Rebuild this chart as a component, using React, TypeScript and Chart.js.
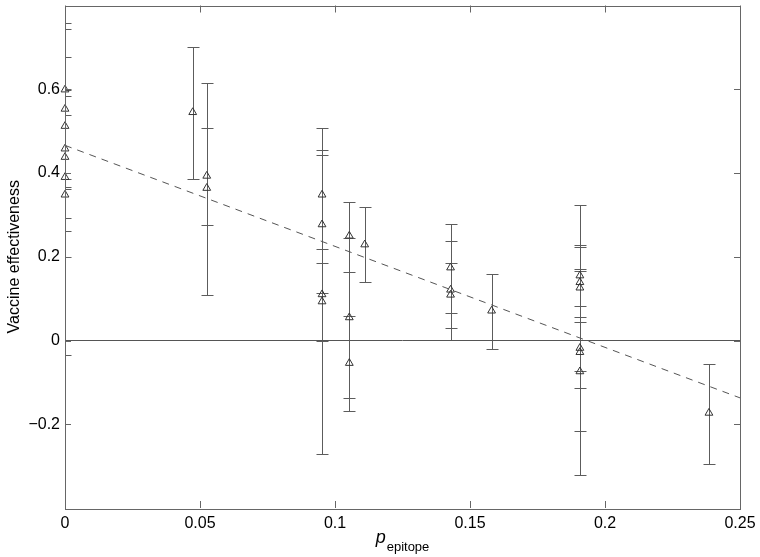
import React, { useEffect, useRef } from "react";
import { Chart, registerables } from "chart.js";

Chart.register(...registerables);

// p_epitope of each observation
const pEpitope = [
  0, 0, 0, 0, 0, 0, 0,
  0.0473,
  0.0525, 0.0525,
  0.0952, 0.0952, 0.0952, 0.0952,
  0.1053, 0.1053, 0.1053,
  0.111,
  0.1428, 0.1428, 0.1428,
  0.158,
  0.1907, 0.1907, 0.1907, 0.1907, 0.1907, 0.1907,
  0.2385,
];
// vaccine effectiveness point estimates
const effectiveness = [
  0.599, 0.553, 0.512, 0.458, 0.438, 0.39, 0.348,
  0.545,
  0.393, 0.364,
  0.348, 0.277, 0.11, 0.093,
  0.25, 0.055, -0.054,
  0.229,
  0.174, 0.121, 0.109,
  0.071,
  0.155, 0.139, 0.126, -0.018, -0.028, -0.074,
  -0.173,
];
// lower ends of the error bars
const ciLow = [
  0.386, 0.367, 0.361, 0.293, 0.261, 0.2, -0.034,
  0.386,
  0.275, 0.109,
  0.218, 0.114, -0.272, 0.0,
  0.164, -0.169, -0.137,
  0.139,
  0.065, 0.001, 0.029,
  -0.021,
  -0.072, 0.083, 0.055, -0.217, -0.114, -0.32,
  -0.295,
];
// upper ends of the error bars
const ciHigh = [
  0.758, 0.678, 0.744, 0.599, 0.583, 0.539, 0.6,
  0.7,
  0.508, 0.615,
  0.455, 0.442, 0.507, 0.186,
  0.331, 0.245, 0.059,
  0.32,
  0.278, 0.237, 0.186,
  0.158,
  0.323, 0.228, 0.224, 0.171, 0.045, 0.167,
  -0.056,
];
// regression line end points
const fitX = [0, 0.25];
const fitY = [0.466, -0.137];
// x-axis ticks and y-axis ticks
const xTicks = [0, 0.05, 0.1, 0.15, 0.2, 0.25];
const yTicks = [-0.2, 0, 0.2, 0.4, 0.6];
const xRange = [0, 0.25];
const yRange = [-0.4, 0.8];

const FONT = "'Liberation Sans', Arial, Helvetica, sans-serif";

function fmt(v: number): string {
  const s = String(Number(v.toFixed(3)));
  return s.replace("-", "\u2212");
}

const errorBarPlugin = {
  id: "errorBars",
  beforeDatasetsDraw(chart: any) {
    const { ctx, chartArea, scales } = chart;
    const xs = scales.x;
    const ys = scales.y;
    ctx.save();
    ctx.beginPath();
    ctx.rect(chartArea.left, chartArea.top, chartArea.right - chartArea.left, chartArea.bottom - chartArea.top);
    ctx.clip();
    ctx.strokeStyle = "#5c5c5c";
    ctx.lineWidth = 1;
    for (let i = 0; i < pEpitope.length; i++) {
      const px = Math.round(xs.getPixelForValue(pEpitope[i])) + 0.5;
      const lo = Math.round(ys.getPixelForValue(ciLow[i])) + 0.5;
      const hi = Math.round(ys.getPixelForValue(ciHigh[i])) + 0.5;
      ctx.beginPath();
      ctx.moveTo(px, lo);
      ctx.lineTo(px, hi);
      ctx.moveTo(px - 6, lo);
      ctx.lineTo(px + 6, lo);
      ctx.moveTo(px - 6, hi);
      ctx.lineTo(px + 6, hi);
      ctx.stroke();
    }
    ctx.restore();
  },
};

const framePlugin = {
  id: "frame",
  afterDraw(chart: any) {
    const { ctx, chartArea, scales } = chart;
    const { left, right, top, bottom } = chartArea;
    ctx.save();
    ctx.strokeStyle = "#666";
    ctx.lineWidth = 1;
    ctx.strokeRect(Math.round(left) + 0.5, Math.round(top) + 0.5, Math.round(right - left), Math.round(bottom - top));
    ctx.beginPath();
    for (const t of xTicks) {
      const px = Math.round(scales.x.getPixelForValue(t)) + 0.5;
      ctx.moveTo(px, bottom);
      ctx.lineTo(px, bottom - 7);
      ctx.moveTo(px, top);
      ctx.lineTo(px, top + 7);
    }
    for (const t of yTicks) {
      const py = Math.round(scales.y.getPixelForValue(t)) + 0.5;
      ctx.moveTo(left, py);
      ctx.lineTo(left + 6, py);
      ctx.moveTo(right, py);
      ctx.lineTo(right - 6, py);
    }
    ctx.stroke();

    // x-axis title: italic p with subscript "epitope"
    ctx.fillStyle = "#000";
    ctx.textBaseline = "alphabetic";
    ctx.font = `italic 18px ${FONT}`;
    const pW = ctx.measureText("p").width;
    ctx.font = `13px ${FONT}`;
    const subW = ctx.measureText("epitope").width;
    const cx = (left + right) / 2;
    const startX = cx - (pW + 1 + subW) / 2;
    ctx.font = `italic 18px ${FONT}`;
    ctx.textAlign = "left";
    ctx.fillText("p", startX, 543);
    ctx.font = `13px ${FONT}`;
    ctx.fillText("epitope", startX + pW + 1, 551);

    // y-axis title
    ctx.save();
    ctx.translate(15, (top + bottom) / 2);
    ctx.rotate(-Math.PI / 2);
    ctx.textAlign = "center";
    ctx.textBaseline = "middle";
    ctx.font = `16px ${FONT}`;
    ctx.fillText("Vaccine effectiveness", 0, 0);
    ctx.restore();
    ctx.restore();
  },
};

export default function App() {
  const ref = useRef<HTMLCanvasElement | null>(null);

  useEffect(() => {
    if (!ref.current) return;
    const points = pEpitope.map((x, i) => ({ x, y: effectiveness[i] }));
    const fit = fitX.map((x, i) => ({ x, y: fitY[i] }));
    const zero = xRange.map((x) => ({ x, y: 0 }));
    const chart = new Chart(ref.current, {
      type: "scatter",
      data: {
        datasets: [
          {
            type: "line",
            data: zero,
            borderColor: "#555",
            borderWidth: 1,
            pointRadius: 0,
            fill: false,
          } as any,
          {
            type: "line",
            data: fit,
            borderColor: "#555",
            borderWidth: 1,
            borderDash: [7, 6],
            pointRadius: 0,
            fill: false,
          } as any,
          {
            data: points,
            pointStyle: "triangle",
            pointRadius: 4.5,
            pointBorderWidth: 1,
            borderColor: "#333",
            backgroundColor: "rgba(0,0,0,0)",
            clip: false,
          } as any,
        ],
      },
      options: {
        responsive: false,
        animation: false,
        layout: { padding: { top: 3, right: 20, left: 0, bottom: 0 } },
        plugins: {
          legend: { display: false },
          tooltip: { enabled: false },
          title: { display: false },
        },
        scales: {
          x: {
            type: "linear",
            min: xRange[0],
            max: xRange[1],
            border: { display: false },
            grid: { display: false, drawTicks: false },
            ticks: {
              stepSize: 0.05,
              padding: 6,
              color: "#000",
              font: { family: FONT, size: 16 },
              maxRotation: 0,
              callback: (v: any) => fmt(Number(v)),
            },
            afterFit: (s: any) => {
              s.height = 49;
              s.paddingLeft = 0;
              s.paddingRight = 0;
            },
          },
          y: {
            type: "linear",
            min: yRange[0],
            max: yRange[1],
            border: { display: false },
            grid: { display: false, drawTicks: false },
            ticks: {
              stepSize: 0.2,
              padding: 5,
              color: "#000",
              font: { family: FONT, size: 16 },
              callback: (v: any) => {
                const n = Number(Number(v).toFixed(3));
                return yTicks.some((t) => Math.abs(t - n) < 1e-6) ? fmt(n) : "";
              },
            },
            afterFit: (s: any) => {
              s.width = 65;
              s.paddingTop = 0;
              s.paddingBottom = 0;
            },
          },
        },
      },
      plugins: [errorBarPlugin, framePlugin],
    });
    return () => chart.destroy();
  }, []);

  return (
    <div style={{ position: "fixed", left: 0, top: 0, width: 760, height: 557, background: "#fff" }}>
      <canvas ref={ref} width={760} height={557} style={{ width: 760, height: 557, display: "block" }} />
    </div>
  );
}
